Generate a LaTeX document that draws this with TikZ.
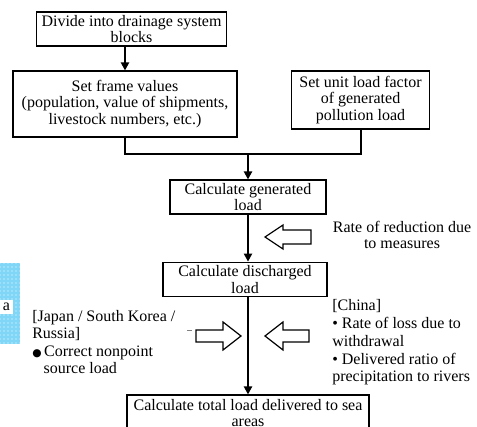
\documentclass[tikz,border=0pt]{standalone}
\usepackage{fontspec}
\setmainfont{Liberation Serif}
\newfontfamily\symfont{DejaVu Sans}
\usetikzlibrary{positioning, patterns, arrows.meta}

\begin{document}
\begin{tikzpicture}[x = 0.75pt, y = -0.75pt,
  box/.style = {draw, line width = 0.8pt, align = center, inner sep = 1pt,
    font = \fontsize{12}{12.5}\selectfont},
  flow/.style = {line width = 1.5pt, -{Triangle[length = 6pt, width = 6pt]}},
  hollow/.style = {draw, line width = 0.9pt, line join = miter},
  note/.style = {align = left, inner sep = 0pt, anchor = north west,
    font = \fontsize{12}{13}\selectfont}]
\useasboundingbox (0,0) rectangle (477,427);

% left margin patch
\fill[cyan!50] (0,263) rectangle (20,344);
\fill[pattern = dots, pattern color = white] (0,263) rectangle (20,344);
\node[fill = white, inner sep = 1pt, minimum width = 10pt, minimum height = 10.5pt,
  font = \fontsize{12}{12}\selectfont] (tag) at (6.5,307) {a};

% boxes
\node[box, minimum width = 143pt, minimum height = 25.5pt] (divide) at (131.5,29)
  {Divide into drainage system\\blocks};
\node[box, minimum width = 168pt, minimum height = 49.5pt] (frame) at (125,104)
  {Set frame values\\(population, value of shipments,\\livestock numbers, etc.)};
\node[box, minimum width = 104pt, minimum height = 43.5pt] (factor) at (360.5,100)
  {Set unit load factor\\of generated\\pollution load};
\node[box, minimum width = 117pt, minimum height = 25.5pt] (gen) at (248,197)
  {Calculate generated\\load};
\node[box, minimum width = 123pt, minimum height = 26pt] (dis) at (245,279.5)
  {Calculate discharged\\load};
\node[box, minimum width = 181.5pt, minimum height = 27pt] (total) at (248,413)
  {Calculate total load delivered to sea\\areas};

% connectors
\coordinate (join) at (248,154);
\draw[flow] (divide.south -| frame.north) -- (frame.north);
\draw[line width = 1.5pt] (frame.south) |- (join) -| (factor.south);
\draw[flow] (join) -- (gen.north);
\draw[flow] (gen.south) -- (gen.south |- dis.north);
\draw[flow] (gen.south |- dis.south) -- (gen.south |- total.north);

% hollow arrows
\coordinate (cut) at (265,237);
\coordinate (fix) at (241,336);
\coordinate (loss) at (265,336);
\draw[hollow] (cut) -- ++(18,-12) -- ++(0,5) -- ++(28,0) -- ++(0,14)
  -- ++(-28,0) -- ++(0,5) -- cycle;
\draw[hollow] (fix) -- ++(-18,-14) -- ++(0,8) -- ++(-27,0) -- ++(0,12)
  -- ++(27,0) -- ++(0,8) -- cycle;
\draw[hollow] (loss) -- ++(18,-14) -- ++(0,8) -- ++(26,0) -- ++(0,12)
  -- ++(-26,0) -- ++(0,8) -- cycle;
\draw[gray, line width = 0.4pt] (187,330) -- (192,330);

% notes
\node[align = center, inner sep = 0pt, font = \fontsize{12}{12.5}\selectfont] (rate)
  at (402,235) {Rate of reduction due\\to measures};
\node[note] (jkr) at (32,310)
  {[Japan / South Korea /\\Russia]\\
   {\symfont\fontsize{8}{8}\selectfont ●}\,Correct nonpoint\\
   \hspace*{8.5pt}source load};
\node[note] (china) at (332,299)
  {[China]\\[0.8pt]
   \textbullet\ Rate of loss due to\\withdrawal\\[0.5pt]
   \textbullet\ Delivered ratio of\\precipitation to rivers};
\end{tikzpicture}
\end{document}
